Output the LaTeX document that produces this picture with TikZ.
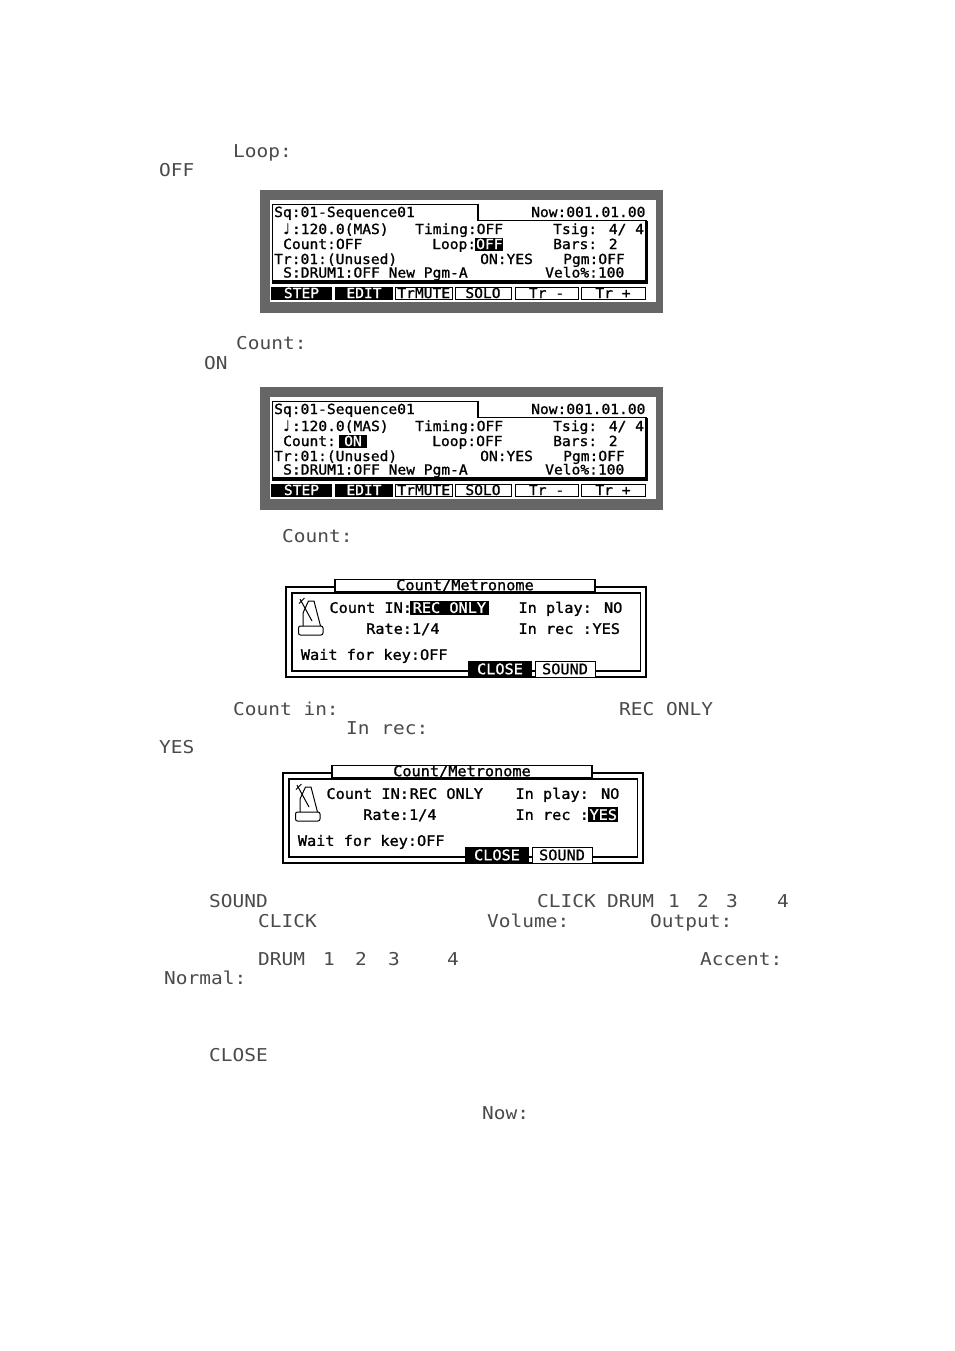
\documentclass[tikz,border=0pt]{standalone}
\usepackage{fontspec}
\newfontfamily\lcd[FakeStretch=1.05,FakeBold=1.2]{DejaVu Sans Mono}
\newfontfamily\loosefont[FakeStretch=1.1]{DejaVu Sans Mono}
\newfontfamily\symfont[FakeBold=1.5]{DejaVu Sans}
\definecolor{lcdgray}{HTML}{666666}
\definecolor{loosegray}{HTML}{4A4A4A}
\tikzset{
  scr/.style={anchor=base west, inner sep=0pt, font=\fontsize{13.9}{15}\lcd},
  dlg/.style={anchor=base west, inner sep=0pt, font=\fontsize{14.5}{16}\lcd},
  loose/.style={anchor=base west, inner sep=0pt, text=loosegray, font=\fontsize{17.7}{20}\loosefont},
  frame/.style={draw=black, line width=1.2pt},
  btnframe/.style={draw=black, line width=1pt, fill=white},
  hilite/.style={fill=black},
  icon/.style={draw=black, line width=1pt}
}
% screen text: name, x, centre y, text
\newcommand\St[4]{\node[scr] (#1) at (#2,#3+5) {#4};}
\newcommand\Dt[4]{\node[dlg] (#1) at (#2,#3+5.2) {#4};}
\newcommand\Lt[4]{\node[loose] (#1) at (#2,#3+6.45) {#4};}
% black button: name, x1, x2, label
\newcommand\Bb[4]{\fill[hilite] (#2,286.5) rectangle (#3,299.5);
  \node[scr, anchor=base, text=white] (#1) at ({(#2+#3)/2},293+5) {#4};}
\newcommand\Wb[4]{\draw[btnframe] (#2,287) rectangle (#3,299);
  \node[scr, anchor=base] (#1) at ({(#2+#3)/2},293+5) {#4};}
% sequence screen: prefix, count value x, count value, count fg, count bg, loop fg, loop bg
\newcommand\seqscreen[7]{%
  \fill[lcdgray] (260,190) rectangle (663,313);
  \fill[white] (270,200) rectangle (656,302);
  \draw[frame] (272.5,281) -- (272.5,204.5) -- (478,204.5) -- (478,220.5) -- (646,220.5) -- (646,281) -- cycle;
  \draw[line width=2.4pt] (647,221) -- (647,282.5) -- (272,282.5);
  \fill[#5] (339,237.5) rectangle (366.5,250.5);
  \fill[#7] (475,237.5) rectangle (503,250.5);
  \St{#1-sq}{274}{212}{Sq:01-Sequence01}
  \St{#1-now}{531}{212}{Now:001.01.00}
  \node[scr, font=\fontsize{14.5}{15}\symfont] (#1-note) at (283,229+5) {♩};
  \St{#1-tempo}{291.8}{229}{:120.0(MAS)}
  \St{#1-timing}{415}{229}{Timing:OFF}
  \St{#1-tsig}{553}{229}{Tsig: 4/ 4}
  \St{#1-count}{283}{244}{Count:}
  \node[scr, text=#4] (#1-countv) at (#2,244+5) {#3};
  \St{#1-loop}{432}{244}{Loop:}
  \node[scr, text=#6] (#1-loopv) at (476,244+5) {OFF};
  \St{#1-bars}{553}{244}{Bars: 2}
  \St{#1-tr}{274}{259}{Tr:01:(Unused)}
  \St{#1-on}{480}{259}{ON:YES}
  \St{#1-pgm}{563}{259}{Pgm:OFF}
  \St{#1-s}{283}{272.5}{S:DRUM1:OFF New Pgm-A}
  \St{#1-velo}{545}{272.5}{Velo\%:100}
  \Bb{#1-step}{271}{332}{STEP}
  \Bb{#1-edit}{335}{393}{EDIT}
  \Wb{#1-mute}{395.5}{452}{TrMUTE}
  \Wb{#1-solo}{455}{511}{SOLO}
  \Wb{#1-trm}{515}{578}{Tr -}
  \Wb{#1-trp}{581}{645}{Tr +}
}
% count/metronome dialog: prefix, rec fg, rec bg, yes fg, yes bg
\newcommand\metrodialog[5]{%
  \draw[frame] (286,587) rectangle (646,677);
  \draw[frame] (292,593) rectangle (640.5,671);
  \draw[frame, fill=white] (335,579.5) rectangle (595,591.5);
  \node[dlg, anchor=base] (#1-title) at (465,585+5.2) {Count/Metronome};
  \draw[icon, rounded corners=2pt] (298.5,626) rectangle (323,635);
  \draw[icon] (303,626) -- (303,613) -- (308.5,601) -- (314,601) -- (320.5,626);
  \draw[icon] (300,599) -- (312,621);
  \draw[icon] (299,603.5) -- (304.5,598);
  \fill[#3] (410,601.3) rectangle (489.3,615.3);
  \fill[#5] (591,620.5) rectangle (621,636);
  \Dt{#1-cin}{329.3}{607.7}{Count IN:}
  \node[dlg, text=#2] (#1-recv) at (412.5,607.7+5.2) {REC ONLY};
  \Dt{#1-play}{518.3}{607.7}{In play: NO}
  \Dt{#1-rate}{366}{628.7}{Rate:1/4}
  \Dt{#1-rec}{518.3}{628.7}{In rec :}
  \node[dlg, text=#4] (#1-yesv) at (592.3,628.7+5.2) {YES};
  \Dt{#1-wait}{300.7}{654.7}{Wait for key:OFF}
  \fill[hilite] (468,661) rectangle (532,677);
  \node[dlg, anchor=base, text=white] (#1-close) at (500,669+5.2) {CLOSE};
  \draw[btnframe] (535,661.5) rectangle (595,677);
  \node[dlg, anchor=base] (#1-sound) at (565,669+5.2) {SOUND};
}
\begin{document}
\begin{tikzpicture}[x=1pt,y=-1pt]
\fill[white] (0,0) rectangle (954,1351);
\useasboundingbox (0,0) rectangle (954,1351);

% loose text
\Lt{t1}{233}{151}{Loop:}
\Lt{t2}{159}{170}{OFF}
\Lt{t3}{236}{343}{Count:}
\Lt{t4}{204}{363}{ON}
\Lt{t5}{282}{536}{Count:}
\Lt{t6}{233}{709}{Count in:}
\Lt{t7}{619}{709}{REC ONLY}
\Lt{t8}{346}{728}{In rec:}
\Lt{t9}{159}{747}{YES}
\Lt{t10}{209}{901}{SOUND}
\Lt{t11}{537}{901}{CLICK}
\Lt{t12}{607}{901}{DRUM}
\Lt{t13}{668}{901}{1}
\Lt{t14}{697}{901}{2}
\Lt{t15}{726}{901}{3}
\Lt{t16}{777}{901}{4}
\Lt{t17}{258}{921}{CLICK}
\Lt{t18}{487}{921}{Volume:}
\Lt{t19}{650}{921}{Output:}
\Lt{t20}{258}{959}{DRUM}
\Lt{t21}{323}{959}{1}
\Lt{t22}{355}{959}{2}
\Lt{t23}{388}{959}{3}
\Lt{t24}{447}{959}{4}
\Lt{t25}{700}{959}{Accent:}
\Lt{t26}{164}{978}{Normal:}
\Lt{t27}{209}{1055}{CLOSE}
\Lt{t28}{482}{1113}{Now:}

% screen 1: Loop OFF highlighted
\seqscreen{sa}{335.8}{OFF}{black}{white}{white}{black}

% screen 2: Count ON highlighted
\begin{scope}[shift={(0,197)}]
\seqscreen{sb}{344}{ON}{white}{black}{black}{white}
\end{scope}

% dialog 1: REC ONLY highlighted
\metrodialog{da}{white}{black}{black}{white}

% dialog 2: YES highlighted
\begin{scope}[shift={(-3,186)}]
\metrodialog{db}{black}{white}{white}{black}
\end{scope}
\end{tikzpicture}
\end{document}
